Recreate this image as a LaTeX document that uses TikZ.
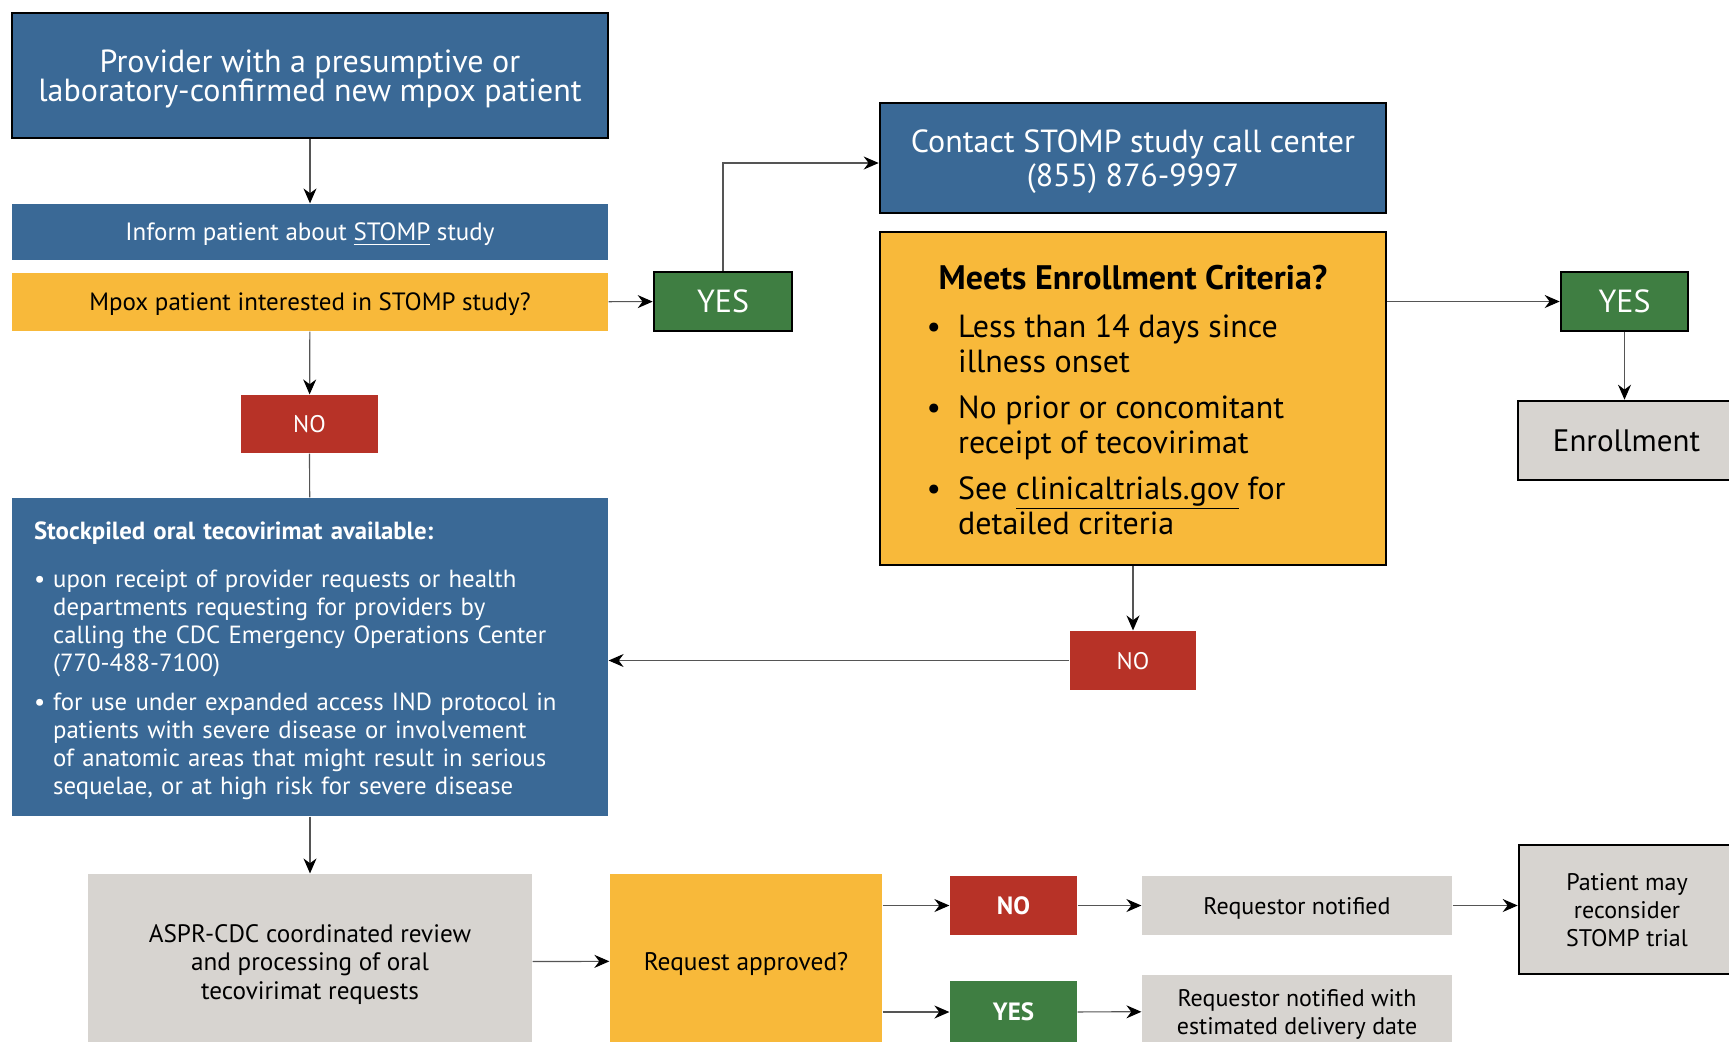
\documentclass[tikz,border=0pt]{standalone}
\usepackage{fontspec}
\setmainfont{PT Sans}
\usetikzlibrary{arrows.meta}
\definecolor{cdcblue}{HTML}{3A6996}
\definecolor{cdcorange}{HTML}{F8B93A}
\definecolor{cdcgreen}{HTML}{3F7E42}
\definecolor{cdcred}{HTML}{B73227}
\definecolor{cdcgray}{HTML}{D7D4D0}
\definecolor{lineclr}{HTML}{555555}
\begin{document}
\begin{tikzpicture}[x=0.5pt,y=-0.5pt,>={Stealth[length=7.5pt,width=6.5pt,color=black]},
  every node/.style={inner sep=0pt,align=center,text depth=0pt,font=\fontsize{12}{14}\selectfont},
  bluebox/.style={fill=cdcblue,text=white},
  orangebox/.style={fill=cdcorange,text=black},
  greenbox/.style={fill=cdcgreen,text=white},
  redbox/.style={fill=cdcred,text=white},
  graybox/.style={fill=cdcgray,text=black},
  framed/.style={draw=black,line width=1.3pt},
  every path/.style={draw=lineclr,line width=0.6pt}]
\useasboundingbox[fill=white,draw=none] (0,0) rectangle (1729,1041);
% left column
\node[bluebox,framed,minimum width=298pt,minimum height=62.5pt,font=\fontsize{16}{14}\selectfont] (prov) at (310,75.5)
  {Provider with a presumptive or\\[-1pt]laboratory-confirmed new mpox patient};
\node[bluebox,minimum width=298pt,minimum height=28pt,font=\fontsize{12.5}{14}\selectfont] (inform) at (310,232) {Inform patient about \underline{STOMP} study};
\node[orangebox,minimum width=298pt,minimum height=29pt,font=\fontsize{12.5}{14}\selectfont] (interest) at (310,302) {Mpox patient interested in STOMP study?};
\node[redbox,minimum width=68.5pt,minimum height=29pt] (noA) at (309.5,424) {NO};
\node[bluebox,minimum width=298pt,minimum height=159pt,text width=276pt,inner xsep=11pt,align=left,text depth={},font=\fontsize{12.4}{14}\selectfont] (stock) at (310,657)
  {{\bfseries Stockpiled oral tecovirimat available:}\\[11pt]
   \begin{tabular}{@{}l@{\hspace{4pt}}l@{}}
   \textbullet & upon receipt of provider requests or health\\
    & departments requesting for providers by\\
    & calling the CDC Emergency Operations Center\\
    & (770-488-7100)\\[5.5pt]
   \textbullet & for use under expanded access IND protocol in\\
    & patients with severe disease or involvement\\
    & of anatomic areas that might result in serious\\
    & sequelae, or at high risk for severe disease\\[-5.5pt]
   \end{tabular}};
\node[graybox,minimum width=222pt,minimum height=88pt,font=\fontsize{12.6}{14.4}\selectfont] (review) at (310,962)
  {ASPR-CDC coordinated review\\and processing of oral\\tecovirimat requests};
\node[orangebox,minimum width=136pt,minimum height=87pt,font=\fontsize{12.7}{14}\selectfont] (approve) at (746,961) {Request approved?};
% middle and right
\node[greenbox,framed,minimum width=69pt,minimum height=29.5pt,font=\fontsize{16}{18}\selectfont] (yesA) at (723,301.5) {YES};
\node[bluebox,framed,minimum width=253pt,minimum height=55pt,font=\fontsize{16}{17}\selectfont] (contact) at (1133,158)
  {Contact STOMP study call center\\(855) 876-9997};
\node[orangebox,framed,minimum width=253pt,minimum height=166.5pt,align=left,text depth={},font=\fontsize{16}{17.5}\selectfont] (crit) at (1133,398.5)
  {{\fontsize{17}{18}\bfseries Meets Enrollment Criteria?}\\[10.5pt]
   \hspace*{-6pt}\begin{tabular}{@{}l@{\hspace{8.5pt}}l@{}}
   \textbullet & Less than 14 days since\\
    & illness onset\\[5.5pt]
   \textbullet & No prior or concomitant\\
    & receipt of tecovirimat\\[5.5pt]
   \textbullet & See \underline{clinicaltrials.gov} for\\
    & detailed criteria\\[-6.5pt]
   \end{tabular}};
\node[greenbox,framed,minimum width=63.5pt,minimum height=29.5pt,font=\fontsize{16}{18}\selectfont] (yesB) at (1624.5,301.5) {YES};
\node[graybox,framed,minimum width=108.5pt,minimum height=39.5pt,font=\fontsize{15.5}{18}\selectfont] (enroll) at (1626.5,440.5) {Enrollment};
\node[redbox,minimum width=63pt,minimum height=29.5pt] (noB) at (1133,660.5) {NO};
% bottom row
\node[redbox,minimum width=63.5pt,minimum height=29.5pt,font=\fontsize{12.5}{14}\bfseries] (noC) at (1013.5,905.5) {NO};
\node[greenbox,minimum width=63.5pt,minimum height=31pt,font=\fontsize{12.5}{14}\bfseries] (yesC) at (1013.5,1012) {YES};
\node[graybox,minimum width=155pt,minimum height=29.5pt] (notif) at (1297,905.5) {Requestor notified};
\node[graybox,minimum width=155pt,minimum height=36.5pt] (notifd) at (1297,1011.5) {Requestor notified with\\estimated delivery date};
\node[graybox,framed,minimum width=108pt,minimum height=64.5pt] (recon) at (1627,909.5) {Patient may\\reconsider\\STOMP trial};
% connectors
\draw[->] (prov) edge (inform);
\draw[->] (interest) edge (yesA);
\draw[->] (yesA) |- ([yshift=-2.5pt]contact.west);
\draw[->] (yesB -| crit.east) -- (yesB);
\draw[->] (yesB) -- (yesB |- enroll.north);
\draw[->] (crit) edge (noB);
\draw[->] (noB) -- (noB -| stock.east);
\draw[->] (interest) edge (noA);
\draw (noA) -- (stock);
\draw[->] (stock) edge (review);
\draw[->] (review) edge (approve);
\draw[->] (noC -| approve.east) -- (noC);
\draw[->] (yesC -| approve.east) -- (yesC);
\draw[->] (noC) edge (notif);
\draw[->] (yesC) edge (notifd);
\draw[->] (notif) -- (notif -| recon.west);
\end{tikzpicture}
\end{document}
